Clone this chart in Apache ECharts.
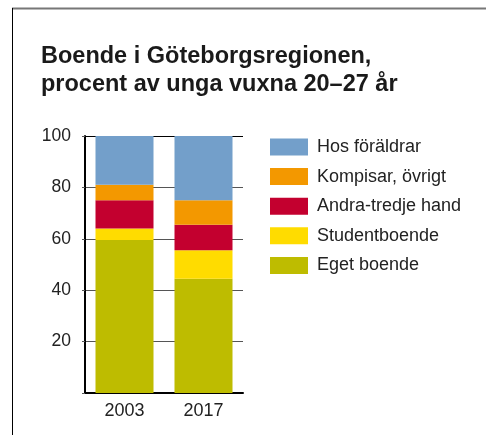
<!DOCTYPE html>
<html>
<head>
<meta charset="utf-8">
<script src="https://cdn.jsdelivr.net/npm/echarts@6/dist/echarts.min.js"></script>
<style>
html,body{margin:0;padding:0;background:#fff;}
#c{width:486px;height:435px;}
</style>
</head>
<body>
<div id="c"></div>
<script>
var categories = ['2003', '2017'];
var egetBoende = [59.5, 44.5];
var studentboende = [4.5, 11];
var andraTredjeHand = [11, 10];
var kompisarOvrigt = [6, 9.5];
var hosForaldrar = [19, 25];
var yTicks = [0, 20, 40, 60, 80, 100];
var seriesNames = ['Eget boende', 'Studentboende', 'Andra-tredje hand', 'Kompisar, övrigt', 'Hos föräldrar'];
var seriesColors = ['#bebc00', '#ffdc00', '#c3002f', '#f39800', '#739fca'];
var seriesData = [egetBoende, studentboende, andraTredjeHand, kompisarOvrigt, hosForaldrar];

var font = '"Liberation Sans", Arial, Helvetica, sans-serif';
var chart = echarts.init(document.getElementById('c'), null, {renderer: 'canvas'});

var series = seriesNames.map(function (n, i) {
  return {
    name: n,
    type: 'bar',
    stack: 'total',
    barWidth: 58,
    data: seriesData[i],
    itemStyle: {color: seriesColors[i]},
    emphasis: {disabled: true}
  };
});

chart.setOption({
  animation: false,
  backgroundColor: '#fff',
  textStyle: {fontFamily: font},
  title: {
    text: 'Boende i Göteborgsregionen,\nprocent av unga vuxna 20–27 år',
    left: 36,
    top: 38,
    textStyle: {fontFamily: font, fontSize: 23.5, fontWeight: 'bold', color: '#1a1a1a', lineHeight: 28}
  },
  legend: {
    orient: 'vertical',
    left: 265,
    top: 133,
    itemWidth: 38,
    itemHeight: 17,
    itemGap: 11.6,
    icon: 'rect',
    data: seriesNames.slice().reverse(),
    textStyle: {fontFamily: font, fontSize: 18, color: '#222', padding: [0, 0, 0, 4]},
    selectedMode: false
  },
  grid: {left: 85, right: 243, top: 136, bottom: 42, containLabel: false},
  xAxis: {
    type: 'category',
    data: categories,
    axisLine: {lineStyle: {color: '#000', width: 2}},
    axisTick: {show: false},
    axisLabel: {fontFamily: font, fontSize: 18, color: '#222', margin: 9}
  },
  yAxis: {
    type: 'value',
    min: 0,
    max: 100,
    interval: 20,
    axisLine: {show: true, lineStyle: {color: '#000', width: 2}},
    axisTick: {show: true, length: 3, lineStyle: {color: '#555'}},
    splitLine: {show: true, lineStyle: {color: ['#555', '#555', '#555', '#555', '#555', '#000'], width: 1}},
    axisLabel: {
      fontFamily: font, fontSize: 17.5, color: '#222', margin: 14,
      formatter: function (v) { return yTicks.indexOf(v) > 0 ? String(v) : ''; }
    }
  },
  graphic: [
    {type: 'line', shape: {x1: 12, y1: 8.5, x2: 486, y2: 8.5}, style: {stroke: '#777', lineWidth: 2}, silent: true},
    {type: 'line', shape: {x1: 12.5, y1: 8, x2: 12.5, y2: 435}, style: {stroke: '#000', lineWidth: 1}, silent: true}
  ],
  series: series
});
</script>
</body>
</html>
